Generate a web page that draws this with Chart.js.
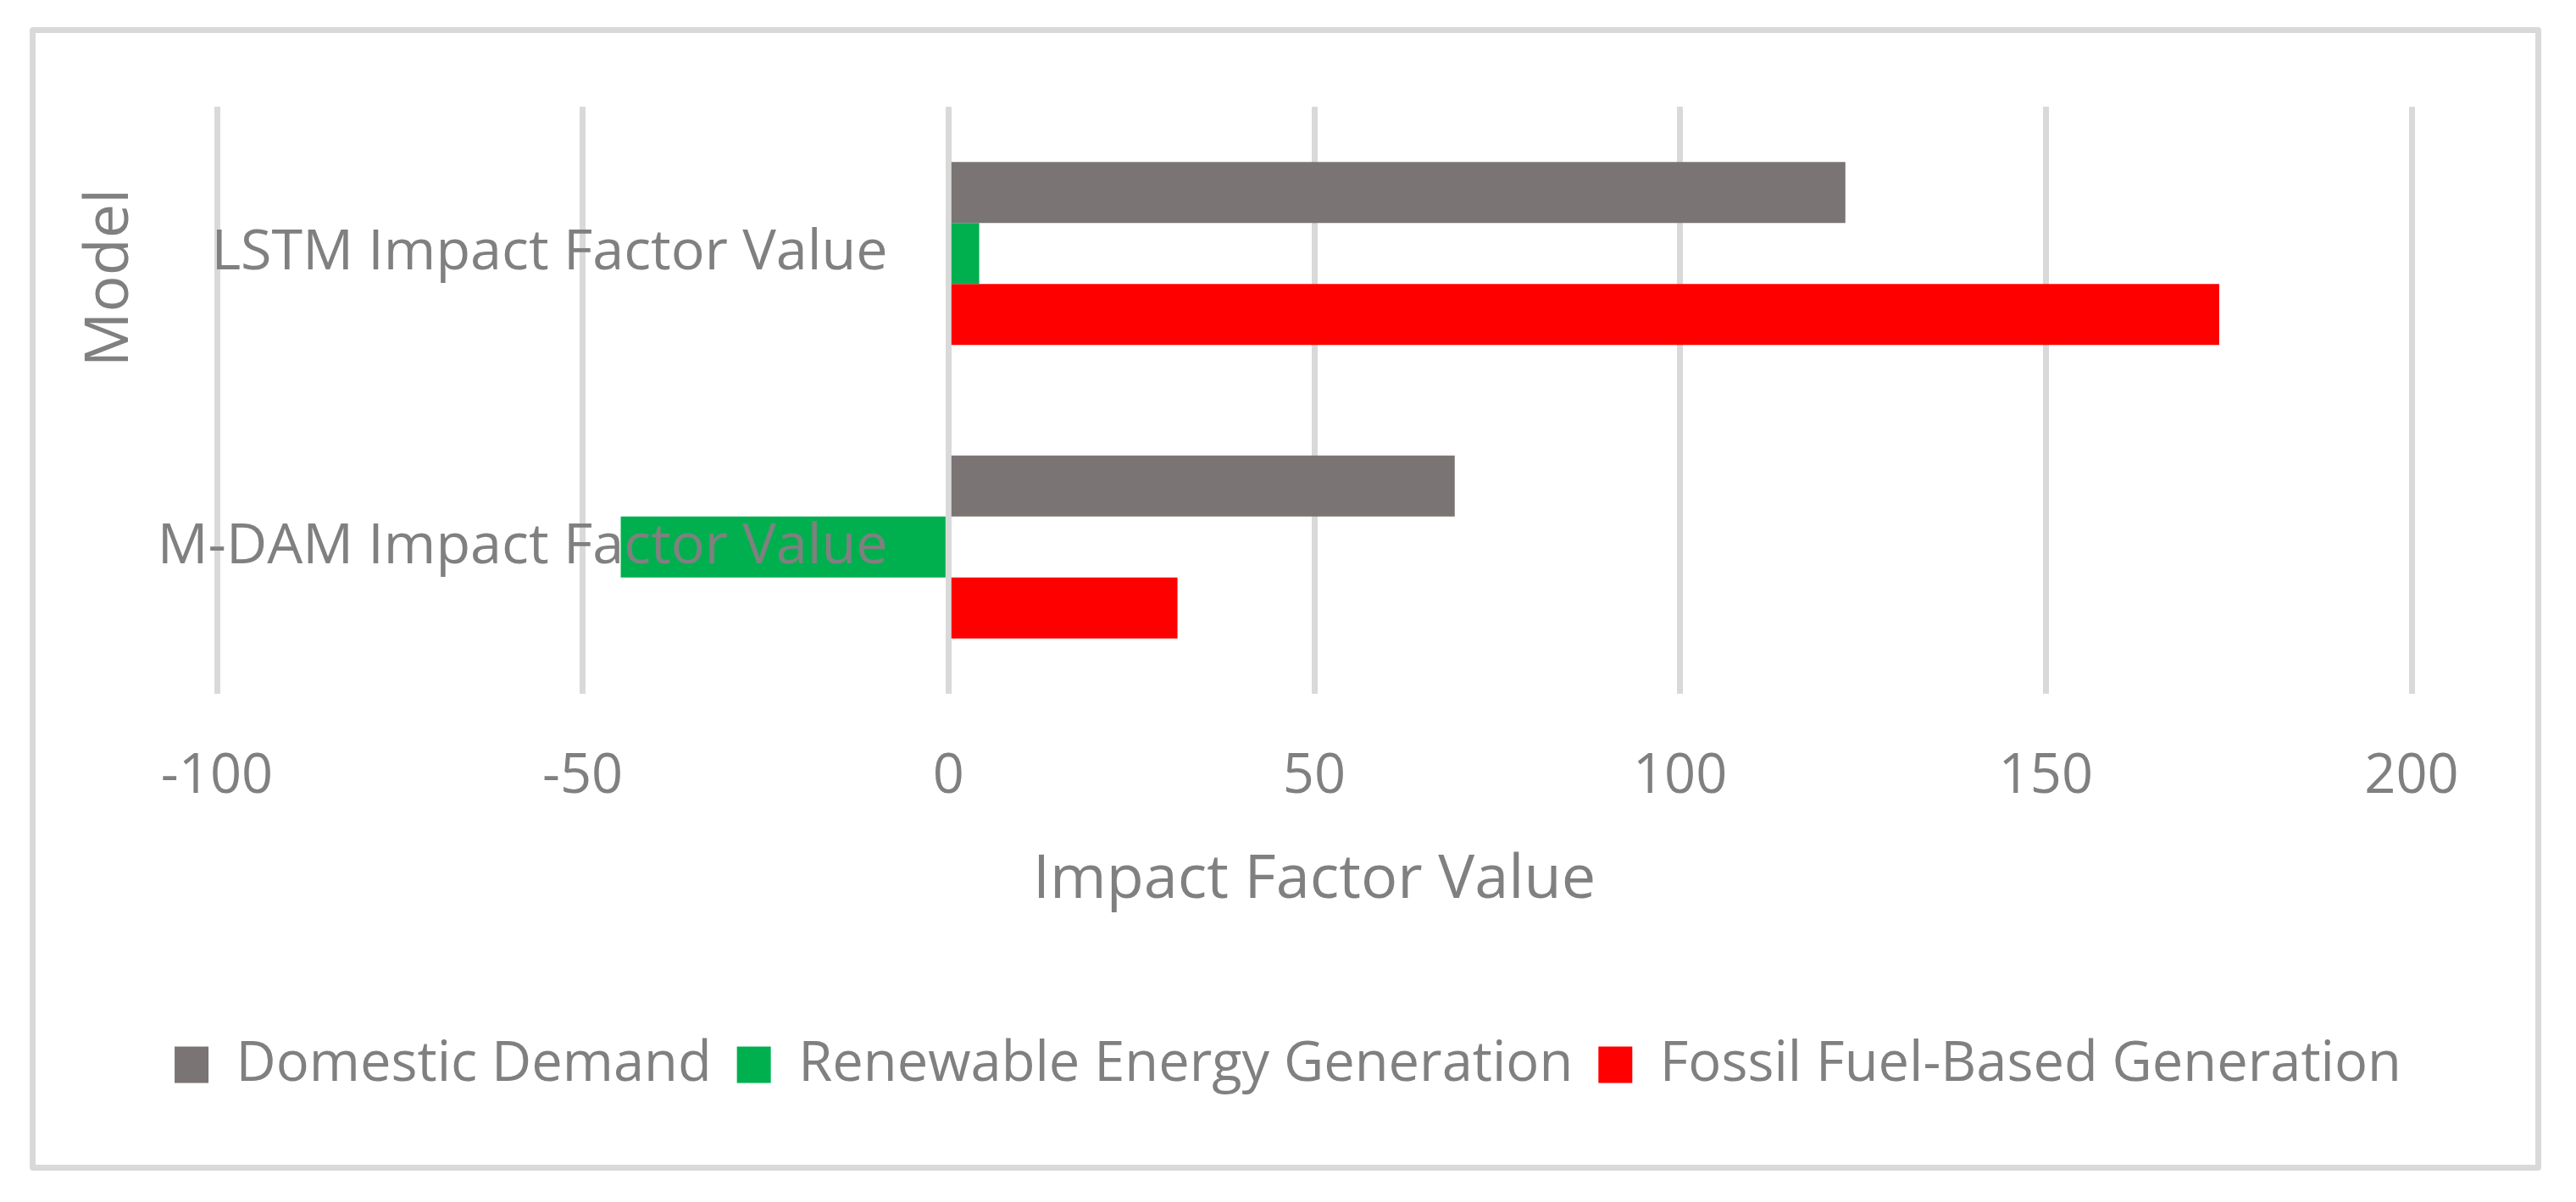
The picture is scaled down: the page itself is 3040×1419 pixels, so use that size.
<!DOCTYPE html>
<html>
<head>
<meta charset="utf-8">
<title>Impact Factor Value</title>
<script src="https://cdn.jsdelivr.net/npm/chart.js@4.4.1/dist/chart.umd.min.js"></script>
<style>
  html, body { margin: 0; padding: 0; background: #fff; overflow: hidden; }
  #wrap { position: relative; width: 3040px; height: 1419px; }
  #frame {
    position: absolute; left: 35px; top: 32px;
    width: 2950px; height: 1336px;
    border: 7px solid #d9d9d9; border-radius: 4px;
    pointer-events: none;
  }
  canvas { position: absolute; left: 0; top: 0; }
</style>
</head>
<body>
<div id="wrap">
  <canvas id="chart" width="3040" height="1419"></canvas>
  <div id="frame"></div>
</div>
<script>
// data
const models = ['LSTM Impact Factor Value', 'M-DAM Impact Factor Value'];
const domesticDemand = [122.6, 69.2];
const renewableGeneration = [4.2, -44.8];
const fossilGeneration = [173.7, 31.3];
const xTickValues = [-100, -50, 0, 50, 100, 150, 200];

const textGray = '#808080';
const fontFamily = '"Open Sans", "Noto Sans", sans-serif';

// vertical axis title, drawn at the spot Excel put it
const modelTitle = {
  id: 'modelTitle',
  afterDraw(chart) {
    const ctx = chart.ctx;
    ctx.save();
    ctx.translate(130, 328);
    ctx.rotate(-Math.PI / 2);
    ctx.font = '72px ' + fontFamily;
    ctx.fillStyle = textGray;
    ctx.textAlign = 'center';
    ctx.textBaseline = 'middle';
    ctx.fillText('Model', 0, 0);
    ctx.restore();
  }
};

// empty side axes only reserve room, so the legend can still use the full width
function spacerAxis(position, width) {
  return {
    axis: 'y',
    type: 'linear',
    position: position,
    grid: { display: false, drawTicks: false },
    border: { display: false },
    ticks: { display: false },
    afterFit: function(scale) { scale.width = width; }
  };
}

const ctx = document.getElementById('chart');

new Chart(ctx, {
  type: 'bar',
  data: {
    labels: models,
    datasets: [
      { label: 'Domestic Demand', data: domesticDemand, backgroundColor: '#7a7574' },
      { label: 'Renewable Energy Generation', data: renewableGeneration, backgroundColor: '#00b04f' },
      { label: 'Fossil Fuel-Based Generation', data: fossilGeneration, backgroundColor: '#ff0000' }
    ]
  },
  options: {
    indexAxis: 'y',
    responsive: false,
    devicePixelRatio: 1,
    animation: false,
    datasets: {
      bar: { categoryPercentage: 0.623, barPercentage: 1.0 }
    },
    layout: {
      padding: { left: 0, right: 0, top: 126, bottom: 119.5 }
    },
    scales: {
      x: {
        type: 'linear',
        min: -100,
        max: 200,
        afterBuildTicks: function(scale) {
          scale.ticks = xTickValues.map(v => ({ value: v }));
        },
        grid: {
          color: '#d9d9d9',
          lineWidth: 7,
          drawTicks: true,
          tickLength: 55,
          tickColor: 'rgba(0,0,0,0)'
        },
        border: { display: false },
        ticks: {
          padding: 4,
          color: textGray,
          font: { family: fontFamily, size: 65 }
        },
        title: {
          display: true,
          text: 'Impact Factor Value',
          color: textGray,
          font: { family: fontFamily, size: 72 },
          padding: { top: 36, bottom: 112 }
        }
      },
      y: {
        type: 'category',
        // labels sit just left of the zero line, over the plot
        position: { x: -8.3 },
        grid: { display: false, drawTicks: false },
        border: { display: false },
        ticks: {
          z: 1,
          color: textGray,
          font: { family: fontFamily, size: 66.5 }
        }
      },
      yLeft: spacerAxis('left', 256),
      yRight: spacerAxis('right', 194)
    },
    plugins: {
      legend: {
        position: 'bottom',
        labels: {
          boxWidth: 40,
          boxHeight: 43,
          padding: 30,
          color: textGray,
          font: { family: fontFamily, size: 65 }
        }
      },
      tooltip: { enabled: false }
    }
  },
  plugins: [modelTitle]
});
</script>
</body>
</html>
